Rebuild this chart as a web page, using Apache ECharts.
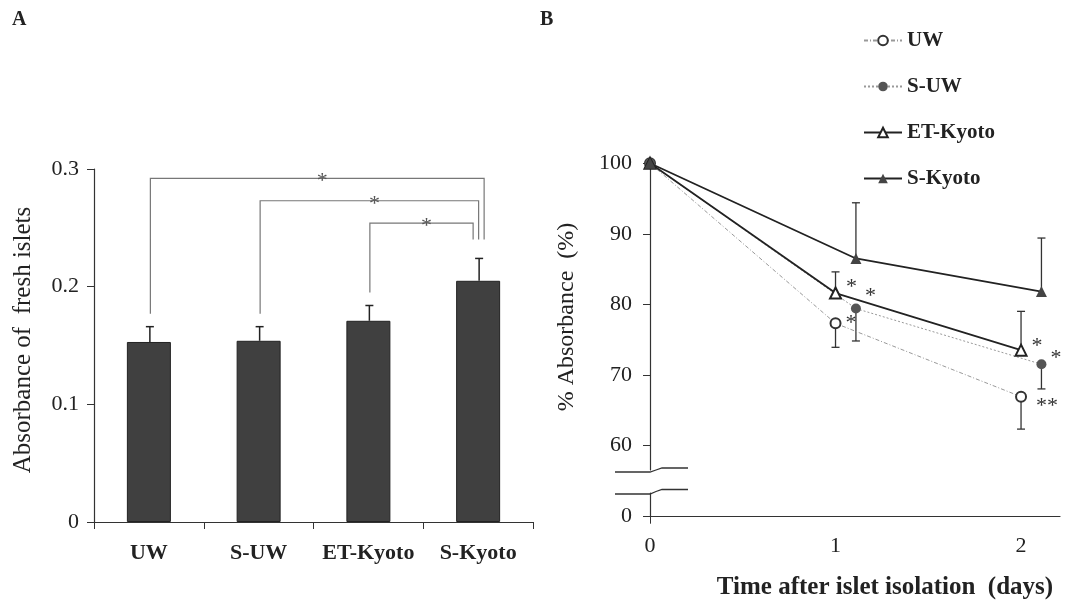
<!DOCTYPE html>
<html>
<head>
<meta charset="utf-8">
<script src="https://cdn.jsdelivr.net/npm/echarts@6.0.0/dist/echarts.min.js"></script>
<style>
html,body{margin:0;padding:0;background:#fff;}
#chart{width:1065px;height:605px;}
</style>
</head>
<body>
<div id="chart"></div>
<script>
// panel A: absorbance of fresh islets
var groups = ['UW', 'S-UW', 'ET-Kyoto', 'S-Kyoto'];
var freshMean = [0.153, 0.154, 0.171, 0.205];
var freshSd = [0.013, 0.012, 0.013, 0.019];
var sigPairs = [[0, 3], [1, 3], [2, 3]];
var sigLevels = [0.292, 0.273, 0.254];
var sigMarks = ['*', '*', '*'];
var yTicksA = [0, 0.1, 0.2, 0.3];

// panel B: % absorbance over time
var days = [0, 1, 2];
var daysShift = [0, 1.11, 2.11];
var uwPct = [100, 77.3, 66.9];
var uwErr = [0, 3.4, 4.6];
var uwSig = ['', '*', '**'];
var suwPct = [100, 79.4, 71.5];
var suwErr = [0, 4.6, 3.5];
var suwSig = ['', '*', '*'];
var etPct = [100, 81.6, 73.5];
var etErr = [0, 3.0, 5.5];
var etSig = ['', '*', '*'];
var skPct = [100, 86.5, 81.8];
var skErr = [0, 7.9, 7.6];
var skSig = ['', '', ''];
var yTicksB = [60, 70, 80, 90, 100];
var xTicksB = [0, 1, 2];

var FONT = 'Liberation Serif';
var INK = '#222';

var chart = echarts.init(document.getElementById('chart'));

// 柱状图误差线
function renderBarErr(params, api) {
  var i = api.value(0);
  var base = api.coord([i, api.value(1)]);
  var tip = api.coord([i, api.value(1) + api.value(2)]);
  return {type: 'group', children: [
    {type: 'line', shape: {x1: base[0] + 1, y1: base[1], x2: tip[0] + 1, y2: tip[1]}, style: {stroke: INK, lineWidth: 1.5}},
    {type: 'line', shape: {x1: tip[0] - 3, y1: tip[1], x2: tip[0] + 5, y2: tip[1]}, style: {stroke: INK, lineWidth: 1.5}}
  ]};
}

// 显著性括号
function renderBracket(params, api) {
  var a = api.value(0), b = api.value(1), lv = api.value(2), k = params.dataIndex;
  var top = api.coord([a, lv])[1];
  var lx = api.coord([a, lv])[0] + 1.5;
  var rx = api.coord([b, lv])[0] + 6 - k * 5.5;
  var lb = api.coord([a, freshMean[a] + freshSd[a] + 0.011])[1];
  var rb = api.coord([b, freshMean[b] + freshSd[b] + 0.016])[1];
  return {type: 'group', children: [
    {type: 'polyline', shape: {points: [[lx, lb], [lx, top], [rx, top], [rx, rb]]},
      style: {stroke: '#777', lineWidth: 1.2, fill: null}},
    {type: 'text', x: (lx + rx) / 2 + 5, y: top + 3,
      style: {text: sigMarks[k], fontSize: 22, fontFamily: FONT, fill: '#555', align: 'center', verticalAlign: 'middle'}}
  ]};
}

// 折线误差线 dir: 1 向上, -1 向下
function errRenderer(dir) {
  return function (params, api) {
    var e = api.value(2);
    if (!e) return null;
    var p = api.coord([api.value(0), api.value(1)]);
    var q = api.coord([api.value(0), api.value(1) + dir * e]);
    return {type: 'group', children: [
      {type: 'line', shape: {x1: p[0], y1: p[1], x2: q[0], y2: q[1]}, style: {stroke: '#333', lineWidth: 1.3}},
      {type: 'line', shape: {x1: q[0] - 4, y1: q[1], x2: q[0] + 4, y2: q[1]}, style: {stroke: '#333', lineWidth: 1.3}}
    ]};
  };
}

// 星号偏移 (样式)
var sigOffset = {
  'UW': [[0, 0], [0, 0], [5, 10]],
  'S-UW': [[0, 0], [0, -12], [0, -6]],
  'ET-Kyoto': [[0, 0], [0, -6], [0, -4]],
  'S-Kyoto': [[0, 0], [0, 0], [0, 0]]
};

function lineData(name, xs, ys, sig) {
  return xs.map(function (x, i) {
    return {
      value: [x, ys[i]],
      label: {show: sig[i] !== '', formatter: sig[i], position: 'right', offset: sigOffset[name][i],
        fontSize: 22, fontFamily: FONT, color: '#333', distance: 4}
    };
  });
}

function errData(xs, ys, es) {
  return xs.map(function (x, i) { return [x, ys[i], es[i]]; });
}

function lineSeries(name, xs, ys, sig, symbol, size, lineStyle, itemStyle) {
  return {
    name: name, type: 'line', xAxisIndex: 1, yAxisIndex: 1,
    data: lineData(name, xs, ys, sig),
    symbol: symbol, symbolSize: size, showAllSymbol: true,
    lineStyle: lineStyle, itemStyle: itemStyle, z: 5, animation: false
  };
}

var gridBTop = 163.3, gridBBreak = 470, gridBLow = 493, gridBZero = 516.7;

var option = {
  animation: false,
  backgroundColor: '#fff',
  textStyle: {fontFamily: FONT},
  grid: [
    {left: 94, top: 169, width: 439, height: 353},
    {left: 650, top: gridBTop, width: 410, height: gridBBreak - gridBTop},
    {left: 650, top: gridBLow, width: 410, height: gridBZero - gridBLow}
  ],
  xAxis: [
    {type: 'category', gridIndex: 0, data: groups, boundaryGap: true,
      axisLine: {lineStyle: {color: '#333', width: 1.2}},
      axisTick: {show: true, interval: 0, alignWithLabel: false, length: 7, lineStyle: {color: '#333'}},
      axisLabel: {interval: 0, fontSize: 22, fontWeight: 'bold', fontFamily: FONT, color: INK, margin: 20}},
    {type: 'value', gridIndex: 1, min: 0, max: 2.21, show: false},
    {type: 'value', gridIndex: 2, min: 0, max: 2.21,
      splitLine: {show: false},
      axisLine: {lineStyle: {color: '#333', width: 1.2}},
      axisTick: {show: true, customValues: [0], length: 7, lineStyle: {color: '#333'}},
      axisLabel: {customValues: xTicksB, fontSize: 22, fontFamily: FONT, color: INK, margin: 19}}
  ],
  yAxis: [
    {type: 'value', gridIndex: 0, min: 0, max: 0.3, interval: 0.1,
      splitLine: {show: false},
      axisLine: {show: true, lineStyle: {color: '#333', width: 1.2}},
      axisTick: {show: true, length: 7, lineStyle: {color: '#333'}},
      axisLabel: {customValues: yTicksA, fontSize: 22, fontFamily: FONT, color: INK, margin: 15}},
    {type: 'value', gridIndex: 1, min: 56.5, max: 100,
      splitLine: {show: false},
      axisLine: {show: true, lineStyle: {color: '#333', width: 1.2}},
      axisTick: {show: true, customValues: yTicksB, length: 7, lineStyle: {color: '#333'}},
      axisLabel: {customValues: yTicksB, fontSize: 22, fontFamily: FONT, color: INK, margin: 18}},
    {type: 'value', gridIndex: 2, min: 0, max: 3.4,
      splitLine: {show: false},
      axisLine: {show: true, lineStyle: {color: '#333', width: 1.2}},
      axisTick: {show: true, customValues: [0], length: 7, lineStyle: {color: '#333'}},
      axisLabel: {customValues: [0], fontSize: 22, fontFamily: FONT, color: INK, margin: 18}}
  ],
  legend: {
    data: ['UW', 'S-UW', 'ET-Kyoto', 'S-Kyoto'],
    orient: 'vertical', left: 858, top: 25,
    itemWidth: 38, itemHeight: 12, itemGap: 25,
    textStyle: {fontSize: 21, fontWeight: 'bold', fontFamily: FONT, color: INK},
    selectedMode: false
  },
  series: [
    {name: 'Absorbance', type: 'bar', xAxisIndex: 0, yAxisIndex: 0, data: freshMean, barWidth: 44,
      itemStyle: {color: '#404040', borderColor: '#222', borderWidth: 1}},
    {name: 'A-err', type: 'custom', xAxisIndex: 0, yAxisIndex: 0, renderItem: renderBarErr,
      encode: {x: 0, y: 1}, z: 3,
      data: groups.map(function (g, i) { return [i, freshMean[i], freshSd[i]]; })},
    {name: 'A-sig', type: 'custom', xAxisIndex: 0, yAxisIndex: 0, renderItem: renderBracket,
      encode: {x: 0, y: 2}, z: 4,
      data: sigPairs.map(function (p, k) { return [p[0], p[1], sigLevels[k]]; })},

    {name: 'UW-err', type: 'custom', xAxisIndex: 1, yAxisIndex: 1, renderItem: errRenderer(-1),
      encode: {x: 0, y: 1}, z: 3, data: errData(days, uwPct, uwErr)},
    {name: 'S-UW-err', type: 'custom', xAxisIndex: 1, yAxisIndex: 1, renderItem: errRenderer(-1),
      encode: {x: 0, y: 1}, z: 3, data: errData(daysShift, suwPct, suwErr)},
    {name: 'ET-err', type: 'custom', xAxisIndex: 1, yAxisIndex: 1, renderItem: errRenderer(1),
      encode: {x: 0, y: 1}, z: 3, data: errData(days, etPct, etErr)},
    {name: 'SK-err', type: 'custom', xAxisIndex: 1, yAxisIndex: 1, renderItem: errRenderer(1),
      encode: {x: 0, y: 1}, z: 3, data: errData(daysShift, skPct, skErr)},

    lineSeries('UW', days, uwPct, uwSig, 'emptyCircle', 10,
      {color: '#999', width: 1, type: [4, 2, 1, 2]}, {color: '#333', borderWidth: 1.2}),
    lineSeries('S-UW', daysShift, suwPct, suwSig, 'circle', 10,
      {color: '#999', width: 1, type: [2, 2]}, {color: '#555'}),
    lineSeries('ET-Kyoto', days, etPct, etSig, 'emptyTriangle', 11,
      {color: '#222', width: 1.8}, {color: '#222', borderWidth: 1.2}),
    lineSeries('S-Kyoto', daysShift, skPct, skSig, 'triangle', 11,
      {color: '#222', width: 1.8}, {color: '#444'})
  ],
  graphic: [
    {type: 'text', left: 12, top: 10, style: {text: 'A', fontSize: 20, fontWeight: 'bold', fontFamily: FONT, fill: INK}},
    {type: 'text', left: 540, top: 10, style: {text: 'B', fontSize: 20, fontWeight: 'bold', fontFamily: FONT, fill: INK}},
    {type: 'text', x: 23, y: 340, rotation: Math.PI / 2,
      style: {text: 'Absorbance of  fresh islets', fontSize: 25, fontFamily: FONT, fill: INK, align: 'center', verticalAlign: 'middle'}},
    {type: 'text', x: 567, y: 317, rotation: Math.PI / 2,
      style: {text: '% Absorbance  (%)', fontSize: 24, fontFamily: FONT, fill: INK, align: 'center', verticalAlign: 'middle'}},
    {type: 'text', x: 885, y: 588,
      style: {text: 'Time after islet isolation  (days)', fontSize: 25, fontWeight: 'bold', fontFamily: FONT, fill: INK, align: 'center', verticalAlign: 'middle'}},
    // 断轴标记
    {type: 'polyline', shape: {points: [[615, 472], [650, 472], [656, 470], [662, 468], [688, 468]]},
      style: {stroke: '#333', lineWidth: 1.3, fill: null}},
    {type: 'polyline', shape: {points: [[615, 494], [650, 494], [656, 491.5], [662, 489.5], [688, 489.5]]},
      style: {stroke: '#333', lineWidth: 1.3, fill: null}}
  ]
};

chart.setOption(option);
</script>
</body>
</html>
